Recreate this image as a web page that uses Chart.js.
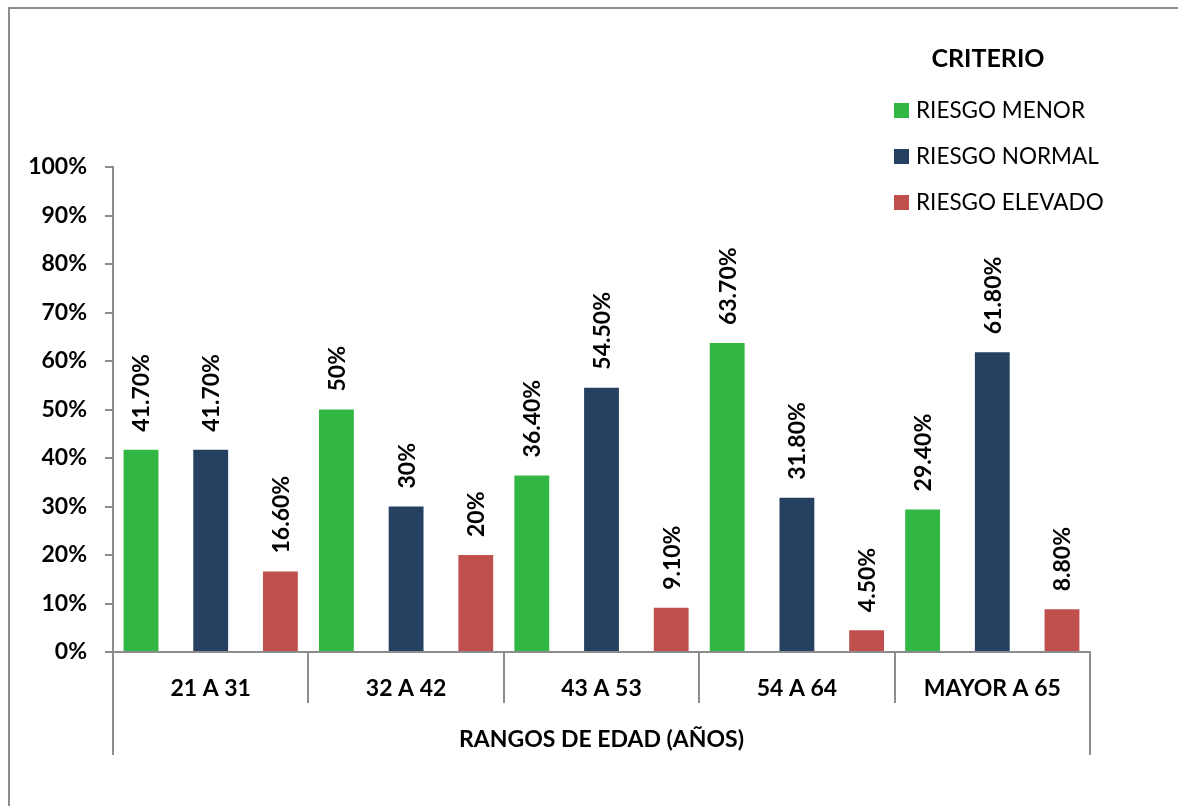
<!DOCTYPE html>
<html>
<head>
<meta charset="utf-8">
<script src="https://cdn.jsdelivr.net/npm/chart.js@4.4.1/dist/chart.umd.min.js"></script>
<style>
  html, body { margin: 0; padding: 0; background: #ffffff; }
  #wrap { width: 1178px; height: 806px; position: relative; }
</style>
</head>
<body>
<div id="wrap"><canvas id="chart" width="1178" height="806"></canvas></div>
<script>
// Age ranges and the share of each risk criterion (percent)
const categories = ['21 A 31', '32 A 42', '43 A 53', '54 A 64', 'MAYOR A 65'];
const riesgoMenor = [41.7, 50, 36.4, 63.7, 29.4];
const riesgoNormal = [41.7, 30, 54.5, 31.8, 61.8];
const riesgoElevado = [16.6, 20, 9.1, 4.5, 8.8];
const seriesNames = ['RIESGO MENOR', 'RIESGO NORMAL', 'RIESGO ELEVADO'];
const yTicks = [0, 10, 20, 30, 40, 50, 60, 70, 80, 90, 100];
const legendTitle = 'CRITERIO';
const axisTitle = 'RANGOS DE EDAD (AÑOS)';

const COLORS = ['#33b744', '#254061', '#c0504d'];
const AXIS = '#8c8c8c';
const FONT = 'Lato, "Open Sans", sans-serif';

function pctLabel(v) {
  return Number.isInteger(v) ? v + '%' : v.toFixed(2) + '%';
}

// white background plus the outer frame
const framePlugin = {
  id: 'frame',
  beforeDraw(chart) {
    const ctx = chart.ctx;
    ctx.save();
    ctx.fillStyle = '#ffffff';
    ctx.fillRect(0, 0, chart.width, chart.height);
    ctx.strokeStyle = AXIS;
    ctx.lineWidth = 2;
    ctx.strokeRect(9, 8, chart.width + 20, chart.height + 20);
    ctx.restore();
  }
};

// category separators below the x axis, outer ones running down past the axis title
const categoryDividers = {
  id: 'categoryDividers',
  afterDraw(chart) {
    const x = chart.scales.x;
    const area = chart.chartArea;
    const n = categories.length;
    const step = (area.right - area.left) / n;
    const ctx = chart.ctx;
    ctx.save();
    ctx.strokeStyle = AXIS;
    ctx.lineWidth = 2;
    for (let i = 0; i <= n; i++) {
      const px = Math.round(x.getPixelForValue(i) - step / 2);
      const bottom = (i === 0 || i === n) ? area.bottom + 103 : area.bottom + 51;
      ctx.beginPath();
      ctx.moveTo(px, area.bottom);
      ctx.lineTo(px, bottom);
      ctx.stroke();
    }
    ctx.restore();
  }
};

// rotated value labels above each bar
const valueLabels = {
  id: 'valueLabels',
  afterDatasetsDraw(chart) {
    const ctx = chart.ctx;
    ctx.save();
    ctx.fillStyle = '#000000';
    ctx.font = 'bold 23px ' + FONT;
    ctx.textAlign = 'left';
    ctx.textBaseline = 'middle';
    chart.data.datasets.forEach((ds, di) => {
      const meta = chart.getDatasetMeta(di);
      meta.data.forEach((bar, i) => {
        ctx.save();
        ctx.translate(bar.x + 1, bar.y - 18);
        ctx.rotate(-Math.PI / 2);
        ctx.fillText(pctLabel(ds.data[i]), 0, 0);
        ctx.restore();
      });
    });
    ctx.restore();
  }
};

// legend block with its title at the upper right
const legendBlock = {
  id: 'legendBlock',
  afterDraw(chart) {
    const ctx = chart.ctx;
    ctx.save();
    ctx.fillStyle = '#000000';
    ctx.font = 'bold 25px ' + FONT;
    ctx.textAlign = 'center';
    ctx.textBaseline = 'middle';
    ctx.fillText(legendTitle, 988, 59);
    ctx.font = '22.5px ' + FONT;
    ctx.textAlign = 'left';
    chart.data.datasets.forEach((ds, i) => {
      const cy = 110 + i * 46;
      ctx.fillStyle = ds.backgroundColor;
      ctx.fillRect(894, cy - 7, 15, 15);
      ctx.fillStyle = '#000000';
      ctx.fillText(ds.label, 916, cy + 1);
    });
    ctx.restore();
  }
};

new Chart(document.getElementById('chart'), {
  type: 'bar',
  data: {
    labels: categories,
    datasets: [
      { label: seriesNames[0], data: riesgoMenor, backgroundColor: COLORS[0] },
      { label: seriesNames[1], data: riesgoNormal, backgroundColor: COLORS[1] },
      { label: seriesNames[2], data: riesgoElevado, backgroundColor: COLORS[2] }
    ]
  },
  options: {
    responsive: false,
    animation: false,
    devicePixelRatio: 1,
    layout: { padding: { top: 167, right: 88, left: 0, bottom: 0 } },
    datasets: { bar: { categoryPercentage: 1.07, barPercentage: 0.5 } },
    plugins: { legend: { display: false }, tooltip: { enabled: false } },
    scales: {
      x: {
        afterFit(scale) { scale.height = 154; },
        border: { display: true, color: AXIS, width: 2 },
        grid: { display: false, drawTicks: false },
        ticks: { color: '#000000', padding: 23, font: { family: FONT, size: 23, weight: 'bold' } },
        title: {
          display: true, text: axisTitle, color: '#000000',
          font: { family: FONT, size: 23, weight: 'bold' },
          padding: { top: 0, bottom: 53 }
        }
      },
      y: {
        min: 0, max: 100,
        afterFit(scale) { scale.width = 113; },
        afterBuildTicks(scale) { scale.ticks = yTicks.map(v => ({ value: v })); },
        border: { display: true, color: AXIS, width: 2 },
        grid: { drawOnChartArea: false, drawTicks: true, tickLength: 8, color: AXIS, lineWidth: 2 },
        ticks: {
          color: '#000000', padding: 18,
          font: { family: FONT, size: 23, weight: 'bold' },
          callback: v => v + '%'
        }
      }
    }
  },
  plugins: [framePlugin, categoryDividers, valueLabels, legendBlock]
});
</script>
</body>
</html>
